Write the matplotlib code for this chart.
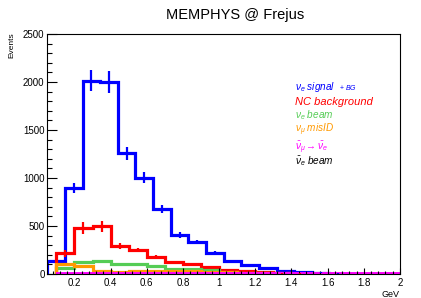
import numpy as np
import matplotlib
matplotlib.use('Agg')
import matplotlib.pyplot as plt
from matplotlib.ticker import MultipleLocator, FuncFormatter

plt.rcParams['font.family'] = ['Liberation Sans', 'DejaVu Sans']
plt.rcParams['mathtext.fontset'] = 'custom'
plt.rcParams['mathtext.rm'] = 'Liberation Sans'
plt.rcParams['mathtext.it'] = 'Liberation Sans:italic'
plt.rcParams['mathtext.bf'] = 'Liberation Sans:bold'

# signal histogram: 20 bins between 0.05 and 2.0 GeV
signal_edges = np.linspace(0.05, 2.0, 21)
signal = [135, 893, 2015, 2000, 1257, 1003, 674, 406, 332, 218,
          135, 96, 60, 31, 21, 14, 5, 3, 2, 1]
signal_err = [0, 50, 110, 110, 65, 60, 40, 28, 22, 18,
              12, 10, 8, 5, 4, 3, 2, 2, 1, 1]

# backgrounds: 19 bins between 0.1 and 2.0 GeV
bg_edges = np.linspace(0.1, 2.0, 20)
nc_bg = [215, 478, 495, 293, 247, 175, 120, 101, 68, 42,
         31, 21, 8, 4, 2, 1, 0, 0, 0]
nc_err = [35, 60, 60, 28, 22, 18, 12, 10, 8, 6,
          5, 4, 3, 2, 1, 1, 0, 0, 0]
nue_beam = [59, 120, 137, 107, 104, 85, 55, 53, 42, 26,
            10, 6, 4, 2, 1, 0, 0, 0, 0]
numu_misid = [100, 85, 30, 22, 35, 35, 33, 30, 26, 20,
              14, 9, 6, 3, 2, 1, 0, 0, 0]
anumu_anue = [4, 4, 4, 4, 3, 3, 3, 3, 2, 2,
              2, 2, 2, 1, 1, 1, 1, 1, 1]
anue_beam = [3, 3, 3, 2, 2, 2, 1, 1, 1, 1,
             1, 0, 0, 0, 0, 0, 0, 0, 0]

c_blue = '#0000ff'
c_red = '#ff0000'
c_green = '#55cc55'
c_orange = '#ff9900'
c_mag = '#ff00ff'

fig = plt.figure(figsize=(4.21, 2.98), dpi=100)
ax = fig.add_axes([0.1124, 0.0805, 0.8376, 0.8055])

lw = 2.3
ax.stairs(signal, signal_edges, color=c_blue, lw=lw)
cen = 0.5 * (signal_edges[1:] + signal_edges[:-1])
ax.errorbar(cen, signal, yerr=signal_err, fmt='none', ecolor=c_blue, elinewidth=1.6)

ax.stairs(nc_bg, bg_edges, color=c_red, lw=lw)
bcen = 0.5 * (bg_edges[1:] + bg_edges[:-1])
ax.errorbar(bcen, nc_bg, yerr=nc_err, fmt='none', ecolor=c_red, elinewidth=1.6)

ax.stairs(nue_beam, bg_edges, color=c_green, lw=lw)
ax.stairs(numu_misid, bg_edges, color=c_orange, lw=lw)
ax.stairs(anue_beam, bg_edges, color='black', lw=lw)
ax.stairs(anumu_anue, bg_edges, color=c_mag, lw=2.8)

ax.set_xlim(0.05, 2.0)
ax.set_ylim(0, 2500)
ax.xaxis.set_major_locator(MultipleLocator(0.2))
ax.xaxis.set_minor_locator(MultipleLocator(0.04))
ax.xaxis.set_major_formatter(FuncFormatter(lambda v, p: f'{v:g}'))
ax.yaxis.set_major_locator(MultipleLocator(500))
ax.yaxis.set_minor_locator(MultipleLocator(100))
ax.tick_params(axis='both', which='both', direction='in', labelsize=7,
               width=0.8, top=False, right=False)
ax.tick_params(axis='x', which='major', length=4.5, pad=3)
ax.tick_params(axis='x', which='minor', length=2.3)
ax.tick_params(axis='y', which='major', length=7, pad=2)
ax.tick_params(axis='y', which='minor', length=3.5)
for s in ax.spines.values():
    s.set_linewidth(0.8)

fig.text(0.558, 0.95, 'MEMPHYS @ Frejus', ha='center', va='center', fontsize=10.5)
fig.text(0.028, 0.89, 'Events', rotation=90, ha='center', va='top', fontsize=6)
fig.text(0.95, 0.012, 'GeV', ha='right', va='center', fontsize=6.5)

fs = 7.2
x0 = 0.70
rows = [0.707, 0.659, 0.614, 0.563, 0.505, 0.458]
ax.text(x0, rows[0], r'$\nu_e\ \mathit{signal}$', color=c_blue, fontsize=fs,
        transform=fig.transFigure, va='center')
ax.text(x0 + 0.105, rows[0], r'$\mathit{+\ BG}$', color=c_blue, fontsize=5,
        transform=fig.transFigure, va='center')
ax.text(x0, rows[1], 'NC background', color=c_red, fontsize=8, style='italic',
        transform=fig.transFigure, va='center')
ax.text(x0, rows[2], r'$\nu_e\ \mathit{beam}$', color=c_green, fontsize=fs,
        transform=fig.transFigure, va='center')
ax.text(x0, rows[3], r'$\nu_\mu\ \mathit{misID}$', color=c_orange, fontsize=fs,
        transform=fig.transFigure, va='center')
ax.text(x0, rows[4], r'$\bar{\nu}_\mu \rightarrow \bar{\nu}_e$', color=c_mag, fontsize=fs,
        transform=fig.transFigure, va='center')
ax.text(x0, rows[5], r'$\bar{\nu}_e\ \mathit{beam}$', color='black', fontsize=fs,
        transform=fig.transFigure, va='center')

fig.savefig('out.png', dpi=100)
